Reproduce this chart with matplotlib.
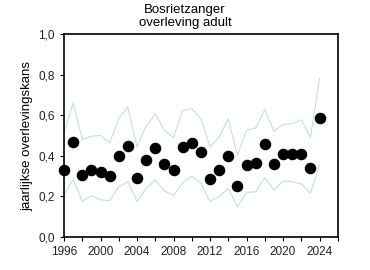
import matplotlib
matplotlib.use("Agg")
import matplotlib.pyplot as plt
from matplotlib.ticker import MultipleLocator, FuncFormatter

plt.rcParams['font.family'] = ['Liberation Sans', 'DejaVu Sans']

# Data
years = list(range(1996, 2025))
survival = [0.33, 0.466, 0.307, 0.332, 0.322, 0.30, 0.40, 0.45, 0.289, 0.379,
            0.437, 0.36, 0.33, 0.442, 0.463, 0.417, 0.287, 0.328, 0.40, 0.253,
            0.356, 0.366, 0.457, 0.361, 0.409, 0.409, 0.41, 0.338, 0.585]
upper = [0.51, 0.66, 0.48, 0.497, 0.50, 0.464, 0.583, 0.64, 0.444, 0.547,
         0.608, 0.526, 0.49, 0.624, 0.632, 0.583, 0.444, 0.493, 0.583, 0.403,
         0.526, 0.537, 0.629, 0.521, 0.555, 0.558, 0.578, 0.49, 0.782]
lower = [0.207, 0.284, 0.175, 0.204, 0.183, 0.18, 0.248, 0.273, 0.175, 0.24,
         0.281, 0.228, 0.204, 0.268, 0.30, 0.265, 0.175, 0.199, 0.24, 0.15,
         0.22, 0.223, 0.292, 0.232, 0.276, 0.273, 0.261, 0.216, 0.354]

fig = plt.figure(figsize=(3.7, 2.7), dpi=100)
ax = fig.add_axes([0.173, 0.122, 0.74, 0.752])

# confidence band lines
ax.plot(years, upper, color='#b7dbee', linewidth=0.7)
ax.plot(years, lower, color='#b7dbee', linewidth=0.7)

# yearly estimates
ax.plot(years, survival, 'o', color='black', markersize=7.3, clip_on=False, zorder=3)

ax.set_xlim(1996, 2026)
ax.set_ylim(0, 1.0)
ax.xaxis.set_major_locator(MultipleLocator(4))
ax.xaxis.set_minor_locator(MultipleLocator(2))
ax.yaxis.set_major_locator(MultipleLocator(0.2))
ax.yaxis.set_major_formatter(FuncFormatter(lambda v, p: f"{v:.1f}".replace('.', ',')))
ax.tick_params(axis='both', which='both', direction='out', labelsize=8.5,
               width=0.8, length=3, labelcolor='#222222')
for s in ax.spines.values():
    s.set_linewidth(1.2)

ax.set_ylabel('jaarlijkse overlevingskans', fontsize=9.5, labelpad=4)
fig.text(0.5, 0.985, 'Bosrietzanger\noverleving adult', ha='center', va='top',
         fontsize=9.5, linespacing=1.1)

plt.savefig('out.png', dpi=100)
plt.close()
